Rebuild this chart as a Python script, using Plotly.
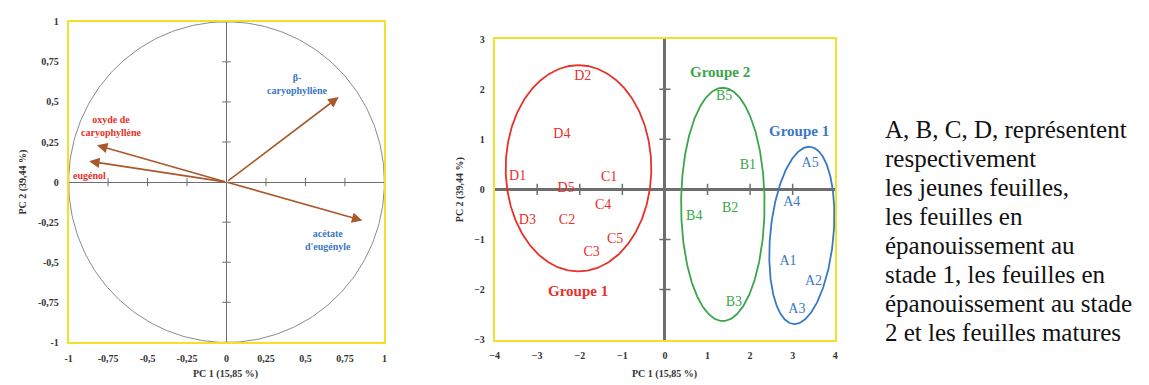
import numpy as np
import plotly.graph_objects as go

# ---------------- data ----------------
# Left: correlation circle (variable loadings on PC1/PC2)
var_names = ["β-<br>caryophyllène", "oxyde de<br>caryophyllène", "eugénol", "acétate<br>d'eugényle"]
var_pc1 = [0.71, -0.82, -0.87, 0.86]
var_pc2 = [0.53, 0.23, 0.13, -0.24]
var_label_x = [0.45, -0.73, -0.87, 0.64]
var_label_y = [0.61, 0.35, 0.04, -0.36]
var_colors = ["#3b78c4", "#e8302a", "#e8302a", "#3b78c4"]

# Right: sample scores
samp_names = ["D1", "D2", "D3", "D4", "D5", "C1", "C2", "C3", "C4", "C5",
              "B1", "B2", "B3", "B4", "B5", "A1", "A2", "A3", "A4", "A5"]
samp_pc1 = [-3.46, -1.93, -3.23, -2.42, -2.32, -1.31, -2.30, -1.72, -1.45, -1.17,
            1.95, 1.53, 1.62, 0.69, 1.39, 2.89, 3.49, 3.10, 2.98, 3.41]
samp_pc2 = [0.25, 2.26, -0.62, 1.09, 0.01, 0.24, -0.63, -1.26, -0.32, -1.00,
            0.48, -0.39, -2.26, -0.54, 1.85, -1.44, -1.84, -2.40, -0.26, 0.52]
samp_group = ["r"] * 10 + ["g"] * 5 + ["b"] * 5

group_names = ["Groupe 1", "Groupe 2", "Groupe 1"]
group_keys = ["r", "g", "b"]
group_label_x = [-2.05, 1.29, 3.14]
group_label_y = [-2.03, 2.35, 1.17]
# ellipse: center x, center y, axis-1 vector (x,y), axis-2 vector (x,y)
ell_cx = [-2.03, 1.36, 3.215]
ell_cy = [0.42, -0.30, -0.92]
ell_ax = [[0.0, 2.06], [0.0, 2.33], [0.195, 1.77]]
ell_bx = [[1.71, 0.0], [0.98, 0.0], [0.739, -0.056]]

left_ticks = [-1, -0.75, -0.5, -0.25, 0, 0.25, 0.5, 0.75, 1]
left_ticktext = ["-1", "-0,75", "-0,5", "-0,25", "0", "0,25", "0,5", "0,75", "1"]
right_xticks = [-4, -3, -2, -1, 0, 1, 2, 3, 4]
right_yticks = [-3, -2, -1, 0, 1, 2, 3]

x_title = "PC 1 (15,85 %)"
y_title = "PC 2 (39,44 %)"

note_lines = ["A, B, C, D, représentent", "respectivement", "les jeunes feuilles,",
              "les feuilles en", "épanouissement au", "stade 1, les feuilles en",
              "épanouissement au stade", "2 et les feuilles matures"]

# ---------------- styles / layout helpers ----------------
W, H = 1149, 385
OFF = 8  # page body margin


def PX(p):
    return (p - OFF) / W


def PY(p):
    return 1 - (p - OFF) / H


COL = {"r": "#e8302a", "g": "#3aa54a", "b": "#3b78c4"}
ARROW = "#a8582a"
AXIS = "#6e6e6e"
BOX = "#f2e12a"
SERIF = "Liberation Serif"

fig = go.Figure()

# ---- left panel ----
t = np.linspace(0, 2 * np.pi, 361)
fig.add_trace(go.Scatter(x=np.cos(t), y=np.sin(t), mode="lines",
                         line=dict(color="#8a8a8a", width=1), xaxis="x", yaxis="y",
                         hoverinfo="skip", showlegend=False))
nz_left = [v for v in left_ticks if v != 0]
fig.add_trace(go.Scatter(x=nz_left, y=[0] * len(nz_left), mode="markers",
                         marker=dict(symbol="line-ns", size=6, line=dict(color=AXIS, width=1)),
                         xaxis="x", yaxis="y", hoverinfo="skip", showlegend=False))
fig.add_trace(go.Scatter(x=[0] * len(nz_left), y=nz_left, mode="markers",
                         marker=dict(symbol="line-ew", size=6, line=dict(color=AXIS, width=1)),
                         xaxis="x", yaxis="y", hoverinfo="skip", showlegend=False))

annotations = []
for px_, py_ in zip(var_pc1, var_pc2):
    annotations.append(dict(x=px_, y=py_, ax=0, ay=0, xref="x", yref="y", axref="x", ayref="y",
                            showarrow=True, arrowhead=2, arrowsize=1.3, arrowwidth=1.6,
                            arrowcolor=ARROW, text=""))
for name, lx, ly, c in zip(var_names, var_label_x, var_label_y, var_colors):
    annotations.append(dict(x=lx, y=ly, xref="x", yref="y", text="<b>" + name + "</b>",
                            showarrow=False, font=dict(family=SERIF, size=10, color=c)))

# ---- right panel ----
nz_rx = [v for v in right_xticks if abs(v) not in (0, 4)]
nz_ry = [v for v in right_yticks if abs(v) not in (0, 3)]
fig.add_trace(go.Scatter(x=nz_rx, y=[0] * len(nz_rx), mode="markers",
                         marker=dict(symbol="line-ns", size=8, line=dict(color=AXIS, width=1.5)),
                         xaxis="x2", yaxis="y2", hoverinfo="skip", showlegend=False))
fig.add_trace(go.Scatter(x=[0] * len(nz_ry), y=nz_ry, mode="markers",
                         marker=dict(symbol="line-ew", size=8, line=dict(color=AXIS, width=1.5)),
                         xaxis="x2", yaxis="y2", hoverinfo="skip", showlegend=False))

for k, cx, cy, a, b in zip(group_keys, ell_cx, ell_cy, ell_ax, ell_bx):
    ex = cx + a[0] * np.cos(t) + b[0] * np.sin(t)
    ey = cy + a[1] * np.cos(t) + b[1] * np.sin(t)
    fig.add_trace(go.Scatter(x=ex, y=ey, mode="lines", line=dict(color=COL[k], width=1.8),
                             xaxis="x2", yaxis="y2", hoverinfo="skip", showlegend=False))

for k in group_keys:
    idx = [i for i, g in enumerate(samp_group) if g == k]
    fig.add_trace(go.Scatter(x=[samp_pc1[i] for i in idx], y=[samp_pc2[i] for i in idx],
                             mode="text", text=[samp_names[i] for i in idx],
                             textfont=dict(family=SERIF, size=14, color=COL[k]),
                             xaxis="x2", yaxis="y2", hoverinfo="skip", showlegend=False))

for name, k, gx, gy in zip(group_names, group_keys, group_label_x, group_label_y):
    annotations.append(dict(x=gx, y=gy, xref="x2", yref="y2", text="<b>" + name + "</b>",
                            showarrow=False, font=dict(family=SERIF, size=15, color=COL[k])))

# axis titles
tfont = dict(family=SERIF, size=10, color="#333333", weight="bold")
for cx_ in (222, 664):
    annotations.append(dict(x=PX(cx_), y=PY(380), xref="paper", yref="paper", text=x_title,
                            showarrow=False, font=tfont, xanchor="center", yanchor="middle"))
for cx_, cy_ in ((18, 181), (458, 189)):
    annotations.append(dict(x=PX(cx_), y=PY(cy_), xref="paper", yref="paper", text=y_title,
                            showarrow=False, font=tfont, textangle=-90,
                            xanchor="center", yanchor="middle"))

# note text, one line each
for i, line in enumerate(note_lines):
    annotations.append(dict(x=PX(884), y=PY(127 + i * 30), xref="paper", yref="paper",
                            xanchor="left", yanchor="middle", align="left", showarrow=False,
                            text=line, font=dict(family=SERIF, size=25, color="#111111")))

tickfont = dict(family=SERIF, size=10, color="#333333", weight="bold")
common = dict(showgrid=False, showline=True, linecolor=BOX, linewidth=1.5, mirror=True,
              zeroline=True, ticks="outside", tickcolor="rgba(0,0,0,0)", ticklen=6,
              tickfont=tickfont, fixedrange=True)

fig.update_layout(
    width=W, height=H, margin=dict(l=0, r=0, t=0, b=0),
    paper_bgcolor="white", plot_bgcolor="white", showlegend=False,
    xaxis=dict(domain=[PX(64), PX(382)], range=[-1, 1], tickvals=left_ticks,
               ticktext=left_ticktext, zerolinecolor=AXIS, zerolinewidth=1.3,
               anchor="y", **common),
    yaxis=dict(domain=[PY(347), PY(16)], range=[-1, 1], tickvals=left_ticks,
               ticktext=left_ticktext, zerolinecolor=AXIS, zerolinewidth=1.3,
               anchor="x", **common),
    xaxis2=dict(domain=[PX(493), PX(836)], range=[-4, 4], tickvals=right_xticks,
                zerolinecolor=AXIS, zerolinewidth=2.5, anchor="y2", **common),
    yaxis2=dict(domain=[PY(344), PY(34)], range=[-3, 3], tickvals=right_yticks,
                zerolinecolor=AXIS, zerolinewidth=2.5, anchor="x2", **common),
    annotations=annotations,
)

fig.write_html("out.html")
